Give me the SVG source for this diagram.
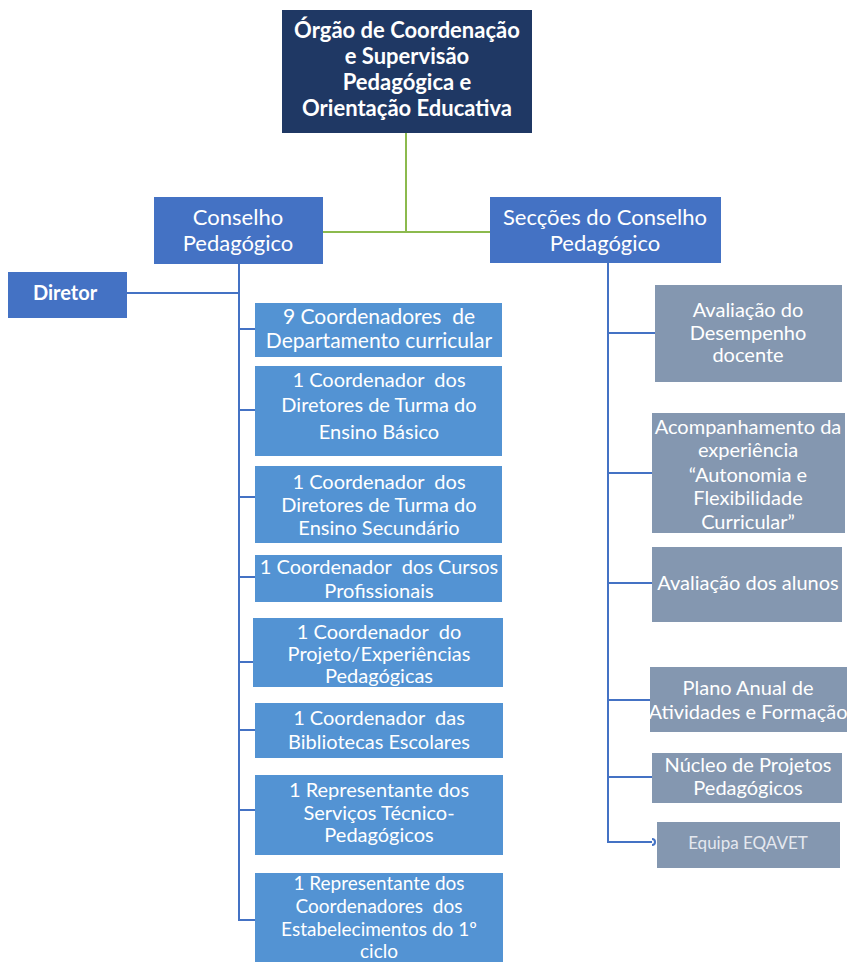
<svg xmlns="http://www.w3.org/2000/svg" width="848" height="962" viewBox="0 0 848 962">
<style>
.t{font-family:Lato,"Open Sans","Liberation Sans",sans-serif;fill:#fff;text-anchor:middle}
.top{font-size:22px;font-weight:bold}
.mid{font-size:22px}
.l{font-size:20px}
.r{font-size:20px}
.navy{fill:#1f3864}
.b1{fill:#4472c4}
.b2{fill:#5393d3}
.g{fill:#8497b0}
.cb{stroke:#4472c4;stroke-width:2;fill:none}
.cg{stroke:#8cba4e;stroke-width:2;fill:none}
</style>
<rect width="848" height="962" fill="#fff"/>
<g id="connectors">
<path class="cg" d="M406 133V232M323 232H490"/>
<path class="cb" d="M239 264V920H255M127 293H239M239 329H255M239 410H255M239 497H255M239 577H255M239 662H253M239 730H255M239 810H255"/>
<path class="cb" d="M608 263V842H652M608 333H655M608 473H652M608 583H652M608 700H650M608 777H652"/>
<path class="cb" d="M652 839a3 3 0 0 1 0 6" stroke-width="1.5"/>
</g>
<g id="n-top"><rect class="navy" x="282" y="10" width="250" height="123"/>
<text class="t top"><tspan x="407" y="38">Órgão de Coordenação</tspan><tspan x="407" y="64">e Supervisão</tspan><tspan x="407" y="90">Pedagógica e</tspan><tspan x="407" y="116">Orientação Educativa</tspan></text></g>
<g id="n-conselho"><rect class="b1" x="154" y="197" width="169" height="67"/>
<text class="t mid"><tspan x="238" y="225">Conselho</tspan><tspan x="238" y="251">Pedagógico</tspan></text></g>
<g id="n-seccoes"><rect class="b1" x="490" y="197" width="231" height="66"/>
<text class="t mid"><tspan x="605" y="225">Secções do Conselho</tspan><tspan x="605" y="251">Pedagógico</tspan></text></g>
<g id="n-diretor"><rect class="b1" x="8" y="272" width="119" height="46"/>
<text class="t" style="font-size:20px;font-weight:bold" x="65" y="300">Diretor</text></g>
<g id="n-l1"><rect class="b2" x="255" y="303" width="247" height="54"/>
<text class="t l" style="font-size:21px"><tspan x="379" y="324">9 Coordenadores&#160; de</tspan><tspan x="379" y="348">Departamento curricular</tspan></text></g>
<g id="n-l2"><rect class="b2" x="255" y="366" width="247" height="90"/>
<text class="t l"><tspan x="379" y="387">1 Coordenador&#160; dos</tspan><tspan x="379" y="412">Diretores de Turma do</tspan><tspan x="379" y="439">Ensino Básico</tspan></text></g>
<g id="n-l3"><rect class="b2" x="255" y="466" width="247" height="77"/>
<text class="t l"><tspan x="379" y="489">1 Coordenador&#160; dos</tspan><tspan x="379" y="512">Diretores de Turma do</tspan><tspan x="379" y="535">Ensino Secundário</tspan></text></g>
<g id="n-l4"><rect class="b2" x="255" y="555" width="247" height="47"/>
<text class="t l"><tspan x="379" y="574">1 Coordenador&#160; dos Cursos</tspan><tspan x="379" y="598">Profissionais</tspan></text></g>
<g id="n-l5"><rect class="b2" x="253" y="618" width="250" height="69"/>
<text class="t l"><tspan x="379" y="639">1 Coordenador&#160; do</tspan><tspan x="379" y="661">Projeto/Experiências</tspan><tspan x="379" y="683">Pedagógicas</tspan></text></g>
<g id="n-l6"><rect class="b2" x="255" y="703" width="248" height="55"/>
<text class="t l"><tspan x="379" y="725">1 Coordenador&#160; das</tspan><tspan x="379" y="749">Bibliotecas Escolares</tspan></text></g>
<g id="n-l7"><rect class="b2" x="255" y="775" width="248" height="80"/>
<text class="t l"><tspan x="379" y="797">1 Representante dos</tspan><tspan x="379" y="820">Serviços Técnico-</tspan><tspan x="379" y="842">Pedagógicos</tspan></text></g>
<g id="n-l8"><rect class="b2" x="255" y="873" width="248" height="95"/>
<text class="t l" style="font-size:19px"><tspan x="379" y="890">1 Representante dos</tspan><tspan x="379" y="913">Coordenadores&#160; dos</tspan><tspan x="379" y="936">Estabelecimentos do 1º</tspan><tspan x="379" y="958">ciclo</tspan></text></g>
<g id="n-r1"><rect class="g" x="655" y="285" width="187" height="97"/>
<text class="t r"><tspan x="748" y="317">Avaliação do</tspan><tspan x="748" y="340">Desempenho</tspan><tspan x="748" y="362">docente</tspan></text></g>
<g id="n-r2"><rect class="g" x="652" y="413" width="193" height="120"/>
<text class="t r"><tspan x="748" y="434">Acompanhamento da</tspan><tspan x="748" y="457">experiência</tspan><tspan x="748" y="482">“Autonomia e</tspan><tspan x="748" y="505">Flexibilidade</tspan><tspan x="748" y="529">Curricular”</tspan></text></g>
<g id="n-r3"><rect class="g" x="652" y="547" width="190" height="75"/>
<text class="t r" x="748" y="590">Avaliação dos alunos</text></g>
<g id="n-r4"><rect class="g" x="650" y="667" width="197" height="65"/>
<text class="t r"><tspan x="748" y="695">Plano Anual de</tspan><tspan x="748" y="719">Atividades e Formação</tspan></text></g>
<g id="n-r5"><rect class="g" x="652" y="753" width="190" height="50"/>
<text class="t r"><tspan x="748" y="772">Núcleo de Projetos</tspan><tspan x="748" y="795">Pedagógicos</tspan></text></g>
<g id="n-r6"><rect class="g" x="657" y="822" width="183" height="46"/>
<text class="t" style="font-size:17px;fill:#e4e8ef" x="748" y="849">Equipa EQAVET</text></g>
</svg>
